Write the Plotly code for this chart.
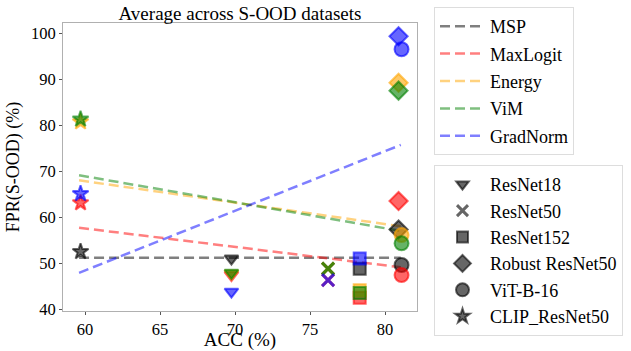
import plotly.graph_objects as go

# ---- data ----
models = ["ResNet18", "ResNet50", "ResNet152", "Robust ResNet50", "ViT-B-16", "CLIP_ResNet50"]
model_acc = [69.76, 76.2, 78.31, 80.9, 81.1, 59.7]
model_symbols = ["triangle-down", "x-thin", "square", "diamond", "circle", "star"]
model_sizes = [12, 12, 12, 14, 14, 12]

methods = ["MSP", "MaxLogit", "Energy", "ViM", "GradNorm"]
fpr_msp = [51.0, 48.8, 48.8, 57.3, 49.6, 52.5]
fpr_maxlogit = [47.4, 46.3, 42.5, 63.5, 47.4, 63.1]
fpr_energy = [47.8, 48.8, 44.1, 89.2, 56.1, 80.7]
fpr_vim = [47.9, 48.8, 43.5, 87.5, 54.3, 81.3]
fpr_gradnorm = [43.8, 46.3, 51.0, 99.3, 96.5, 65.1]
fpr_by_method = [fpr_msp, fpr_maxlogit, fpr_energy, fpr_vim, fpr_gradnorm]

# trend lines at the accuracy extremes
trend_acc = [59.6, 81.05]
trend_msp = [51.2, 51.2]
trend_maxlogit = [57.7, 49.1]
trend_energy = [68.0, 58.0]
trend_vim = [69.1, 57.0]
trend_gradnorm = [47.9, 75.7]
trend_by_method = [trend_msp, trend_maxlogit, trend_energy, trend_vim, trend_gradnorm]

method_rgb = [(0, 0, 0), (255, 0, 0), (255, 165, 0), (0, 128, 0), (0, 0, 255)]

FONT = "Liberation Serif, Times New Roman, Times, DejaVu Serif, serif"


def rgba(c, a):
    return "rgba(%d,%d,%d,%.2f)" % (c[0], c[1], c[2], a)


fig = go.Figure()

# trend lines (legend 1)
for i, m in enumerate(methods):
    fig.add_trace(go.Scatter(
        x=trend_acc, y=trend_by_method[i], mode="lines", name=m,
        line=dict(color=rgba(method_rgb[i], 0.5), width=2.5, dash="10px,5px"),
        legend="legend", legendgroup="m%d" % i, hoverinfo="skip",
    ))

# points
for i, m in enumerate(methods):
    for j, mod in enumerate(models):
        sym = model_symbols[j]
        if sym == "x-thin":
            marker = dict(symbol=sym, size=model_sizes[j], color=rgba(method_rgb[i], 0.65),
                          line=dict(color=rgba(method_rgb[i], 0.65), width=3))
        else:
            marker = dict(symbol=sym, size=model_sizes[j], color=rgba(method_rgb[i], 0.6),
                          line=dict(color=rgba(method_rgb[i], 0.6), width=2))
        fig.add_trace(go.Scatter(
            x=[model_acc[j]], y=[fpr_by_method[i][j]], mode="markers",
            marker=marker, showlegend=False, name=m + " " + mod,
            legend="legend3",
        ))

# model legend (legend 2)
for j, mod in enumerate(models):
    sym = model_symbols[j]
    if sym == "x-thin":
        marker = dict(symbol=sym, size=model_sizes[j] - 1, color="rgba(0,0,0,0.6)",
                      line=dict(color="rgba(0,0,0,0.6)", width=3))
    else:
        marker = dict(symbol=sym, size=model_sizes[j] - 1, color="rgba(0,0,0,0.6)",
                      line=dict(color="rgba(0,0,0,0.6)", width=2))
    fig.add_trace(go.Scatter(
        x=[None], y=[None], mode="markers", name=mod, marker=marker,
        legend="legend2",
    ))

axis_common = dict(
    showgrid=False, zeroline=False, showline=True, mirror=True, automargin=False,
    linecolor="#b0b0b0", linewidth=1, ticks="outside", ticklen=3,
    tickcolor="#555", tickfont=dict(family=FONT, size=16.5, color="black"),
)

fig.update_layout(
    width=631, height=351,
    margin=dict(l=63, r=214, t=23, b=40, autoexpand=False),
    paper_bgcolor="white", plot_bgcolor="white",
    font=dict(family=FONT, color="black"),
    title=dict(text="Average across S-OOD datasets", x=0.5, xref="paper",
               y=1 - 13 / 351, yref="container", yanchor="middle",
               font=dict(family=FONT, size=19, color="black")),
    xaxis=dict(range=[58.53, 82.13], tickvals=[60, 65, 70, 75, 80],
               title=dict(text="ACC (%)", font=dict(family=FONT, size=19), standoff=7),
               **axis_common),
    yaxis=dict(range=[39.6, 102.2], tickvals=[40, 50, 60, 70, 80, 90, 100],
               title=dict(text="FPR(S-OOD) (%)", font=dict(family=FONT, size=18), standoff=6),
               **axis_common),
    legend=dict(x=434 / 631, y=1 - 7 / 351, xref="container", yref="container",
                xanchor="left", yanchor="top", tracegroupgap=1,
                bordercolor="#dddddd", borderwidth=1, bgcolor="white",
                font=dict(family=FONT, size=18), itemwidth=45),
    legend2=dict(x=434 / 631, y=1 - 165 / 351, xref="container", yref="container",
                 xanchor="left", yanchor="top",
                 bordercolor="#dddddd", borderwidth=1, bgcolor="white",
                 font=dict(family=FONT, size=18), itemwidth=45),
    legend3=dict(visible=False),
    showlegend=True,
)

fig.write_html("out.html", config={"displayModeBar": False},
               post_script="document.body.style.margin='0';")
